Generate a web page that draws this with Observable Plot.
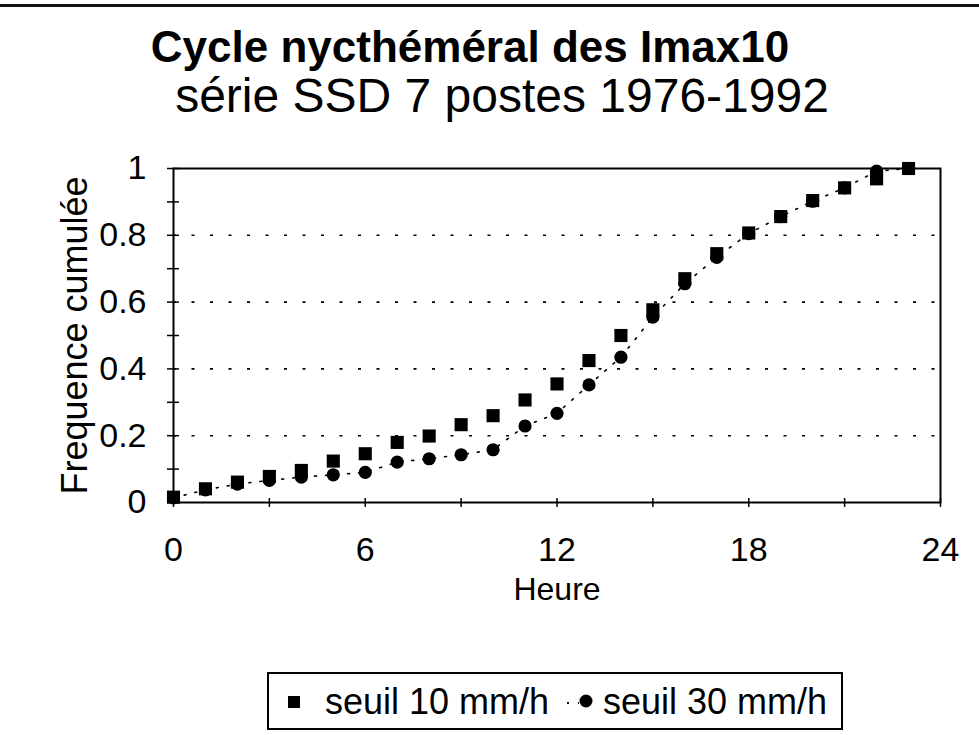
<!DOCTYPE html>
<html>
<head>
<meta charset="utf-8">
<script src="https://cdn.jsdelivr.net/npm/d3@7"></script>
<script src="https://cdn.jsdelivr.net/npm/@observablehq/plot@0.6"></script>
<style>
  html, body { margin: 0; padding: 0; background: #fff; }
  body { width: 979px; height: 735px; position: relative; overflow: hidden; font-family: "Liberation Sans", Arial, sans-serif; color: #000; }
  #topline { position: absolute; left: 0; top: 4px; width: 979px; height: 3px; background: #111; }
  #title { position: absolute; left: 0; width: 940px; top: 25px; text-align: center; font-weight: bold; font-size: 44px; line-height: 44px; white-space: nowrap; }
  #subtitle { position: absolute; left: 0; width: 1004px; top: 72px; text-align: center; font-size: 48px; line-height: 48px; white-space: nowrap; }
  #chart { position: absolute; left: 0; top: 120px; }
  #legend { position: absolute; left: 267px; top: 672px; width: 572px; height: 54px; border: 2px solid #000; }
</style>
</head>
<body>
<div id="topline"></div>
<div id="title">Cycle nycthéméral des Imax10</div>
<div id="subtitle">série SSD 7 postes 1976-1992</div>
<div id="chart"></div>
<div id="legend"></div>
<script>
const hours = d3.range(0, 24);
const seuil10 = [0.016, 0.041, 0.061, 0.078, 0.096, 0.124, 0.146, 0.180, 0.199, 0.233, 0.260, 0.307, 0.355, 0.425, 0.500, 0.577, 0.670, 0.745, 0.807, 0.856, 0.904, 0.942, 0.969, 1.000];
const seuil30 = [0.014, 0.038, 0.055, 0.066, 0.076, 0.083, 0.090, 0.121, 0.131, 0.143, 0.158, 0.229, 0.267, 0.352, 0.435, 0.555, 0.655, 0.734, 0.805, 0.856, 0.902, 0.942, 0.992, 1.000];
const seriesNames = ["seuil 10 mm/h", "seuil 30 mm/h"];
const xTickLabels = [0, 6, 12, 18, 24];
const xMinorTicks = d3.range(0, 25, 3);
const yTickLabels = [0, 0.2, 0.4, 0.6, 0.8, 1];
const yMinorTicks = d3.range(0, 11).map(i => i / 10);
const yGrid = [0.2, 0.4, 0.6, 0.8];

const d10 = hours.map((h, i) => ({heure: h, freq: seuil10[i]}));
const d30 = hours.map((h, i) => ({heure: h, freq: seuil30[i]}));

const chart = Plot.plot({
  width: 979,
  height: 500,
  marginLeft: 173,
  marginRight: 39,
  marginTop: 48,
  marginBottom: 118,
  style: {fontFamily: "'Liberation Sans', Arial, sans-serif", fontSize: "34px", color: "#000", background: "transparent"},
  x: {domain: [0, 24]},
  y: {domain: [0, 1]},
  marks: [
    Plot.gridY(yGrid, {stroke: "#000", strokeOpacity: 1, strokeWidth: 1.6, strokeDasharray: "3,15.5"}),
    Plot.frame({stroke: "#000", strokeWidth: 2}),
    Plot.axisY(yMinorTicks, {tickSize: 12, dx: 6, tickFormat: () => "", label: null, strokeWidth: 1.5}),
    Plot.axisY(yTickLabels, {tickSize: 0, tickPadding: 27, tickFormat: d => String(d), label: null, fontSize: 34}),
    Plot.axisY({ticks: [], label: "Frequence cumulée", labelAnchor: "center", labelOffset: 112, labelArrow: "none", fontSize: 36, tickSize: 0}),
    Plot.axisX(xMinorTicks, {tickSize: 9, dy: -4, tickFormat: () => "", label: null, strokeWidth: 1.5}),
    Plot.axisX(xTickLabels, {tickSize: 0, tickPadding: 34, tickFormat: d => String(d), label: null, fontSize: 34}),
    Plot.axisX({ticks: [], label: "Heure", labelAnchor: "center", labelOffset: 97, labelArrow: "none", fontSize: 32, tickSize: 0}),
    Plot.line(d30, {x: "heure", y: "freq", stroke: "#000", strokeWidth: 1.6, strokeDasharray: "2,9"}),
    Plot.dot(d10, {x: "heure", y: "freq", symbol: "square", r: 7.4, fill: "#000", stroke: "none"}),
    Plot.dot(d30, {x: "heure", y: "freq", symbol: "circle", r: 6.6, fill: "#000", stroke: "none"})
  ]
});
document.getElementById("chart").appendChild(chart);

// legend
const lg = document.getElementById("legend");
lg.innerHTML = `
<svg width="572" height="54" style="position:absolute;left:0;top:0;font-family:'Liberation Sans', Arial, sans-serif;">
  <rect x="19" y="22" width="12" height="12" fill="#000"/>
  <text x="56" y="40" font-size="36">${seriesNames[0]}</text>
  <line x1="298" y1="29" x2="310" y2="29" stroke="#000" stroke-width="2" stroke-dasharray="2,9"/>
  <circle cx="317" cy="27" r="6.5" fill="#000"/>
  <text x="334" y="40" font-size="36">${seriesNames[1]}</text>
</svg>`;
</script>
</body>
</html>
